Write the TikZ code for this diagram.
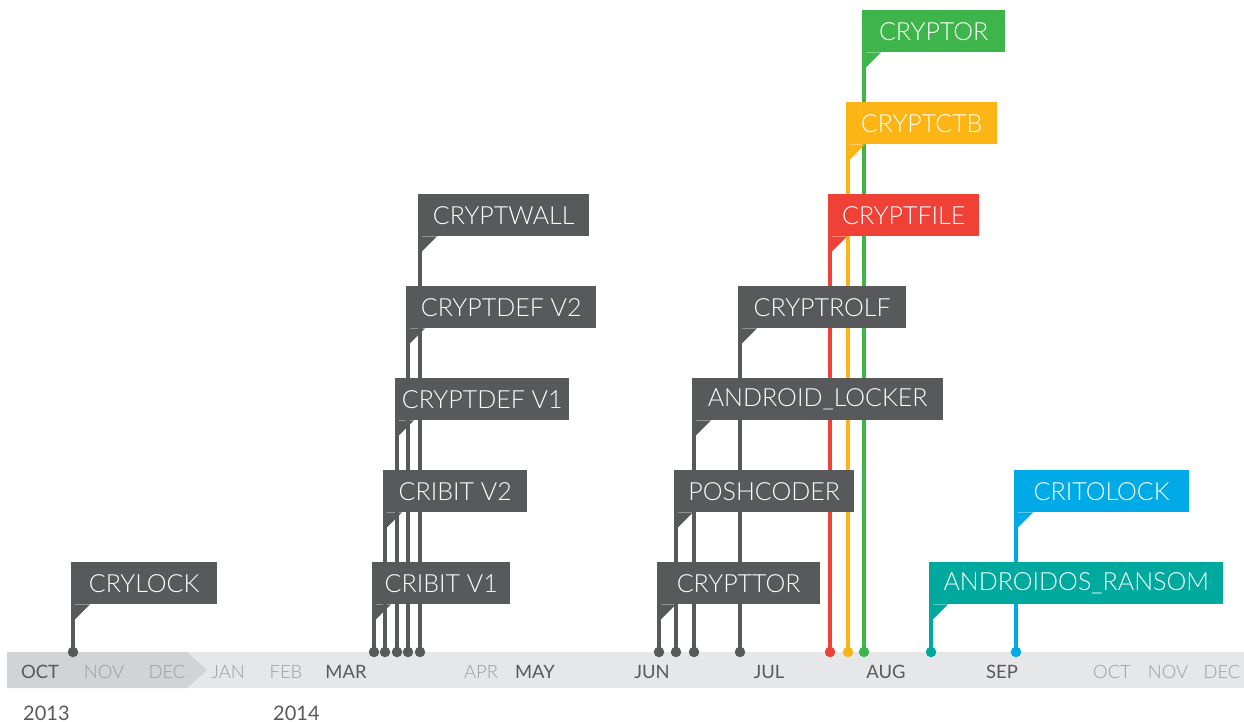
\documentclass[tikz,border=0pt]{standalone}
\usepackage{fontspec}
\setmainfont{Lato}
\newfontfamily\lightfont{Lato Light}
\definecolor{flaggray}{HTML}{58595B}
\definecolor{flagred}{HTML}{EF4136}
\definecolor{flagorange}{HTML}{FDB515}
\definecolor{flaggreen}{HTML}{3DB54A}
\definecolor{flagteal}{HTML}{00A99D}
\definecolor{flagblue}{HTML}{00AAE6}
\definecolor{barlight}{HTML}{E6E7E8}
\definecolor{bardark}{HTML}{D1D3D4}
\definecolor{monthgray}{HTML}{9A9C9F}
\pgfdeclarelayer{bg}
\pgfsetlayers{bg,main}
\tikzset{
  flag/.style={rectangle, inner sep=0pt, minimum height=42pt, text=white,
    font=\lightfont\fontsize{25}{25}\selectfont},
  dot/.style={circle, inner sep=0pt, minimum size=10.5pt},
  pole/.style={line width=3.5pt},
  monthdark/.style={inner sep=0pt, text=flaggray, font=\fontsize{18.4}{18.4}\selectfont},
  monthlight/.style={inner sep=0pt, text=monthgray, font=\lightfont\fontsize{18.4}{18.4}\selectfont},
  yearlabel/.style={inner sep=0pt, anchor=west, text=flaggray, font=\fontsize{20}{20}\selectfont}
}
\begin{document}
\begin{tikzpicture}[x=1pt,y=-1pt]
\useasboundingbox (0,0) rectangle (1244,722);
% timeline bar: 2013 part as an arrow over the 2014 band
\begin{pgfonlayer}{bg}
\fill[barlight] (7,652) rectangle (1244,688);
\fill[bardark] (7,652) -- (187,652) -- (207,670) -- (187,688) -- (7,688) -- cycle;
\end{pgfonlayer}
% flags: pole x / top / right edge / colour / name
\foreach \p/\t/\r/\c/\txt [count=\i] in {
  73/562/217/flaggray/CRYLOCK,
  374/562/510/flaggray/CRIBIT V1,
  385/470/527/flaggray/CRIBIT V2,
  397/378/569/flaggray/CRYPTDEF V1,
  408/286/596/flaggray/CRYPTDEF V2,
  420/194/589/flaggray/CRYPTWALL,
  659/562/820/flaggray/CRYPTTOR,
  676/470/854/flaggray/POSHCODER,
  694/378/943/flaggray/ANDROID\_LOCKER,
  740/286/906/flaggray/CRYPTROLF,
  830/194/979/flagred/CRYPTFILE,
  848/102/997/flagorange/CRYPTCTB,
  864/10/1005/flaggreen/CRYPTOR,
  931/562/1223/flagteal/ANDROIDOS\_RANSOM,
  1016/470/1189/flagblue/CRITOLOCK}{
  \pgfmathsetmacro\w{\r-\p+2}
  \node[flag, fill=\c, minimum width=\w pt, anchor=north west] (f\i) at (\p-2,\t) {\txt};
  \fill[\c] (f\i.south west) -- ++(19,0) -- ++(-19,19) -- cycle;
  \node[dot, fill=\c] (d\i) at (\p,652) {};
  \begin{pgfonlayer}{bg}
    \draw[pole, draw=\c] (d\i.center) -- (d\i.center |- f\i.south);
  \end{pgfonlayer}
}
% month labels
\foreach \x/\m/\s [count=\j] in {
  40/OCT/dark, 104/NOV/light, 167/DEC/light, 228/JAN/light, 286/FEB/light,
  346/MAR/dark, 481/APR/light, 535/MAY/dark, 652/JUN/dark, 769/JUL/dark,
  886/AUG/dark, 1002/SEP/dark, 1112/OCT/light, 1168/NOV/light, 1222/DEC/light}{
  \node[month\s] (m\j) at (\x,672) {\m};
}
% years
\node[yearlabel] (y1) at (23,713) {2013};
\node[yearlabel] (y2) at (273,713) {2014};
\end{tikzpicture}
\end{document}
